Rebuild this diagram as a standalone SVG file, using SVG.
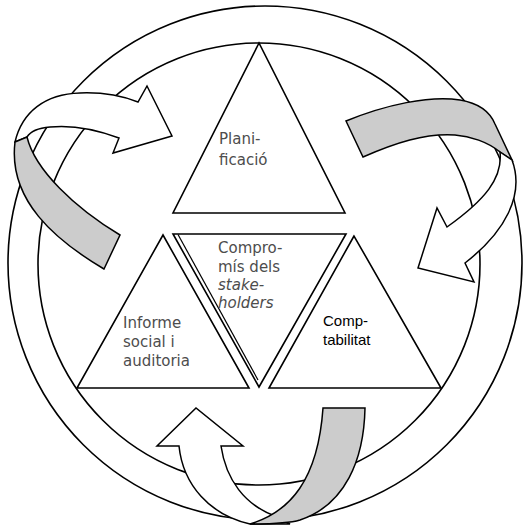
<svg xmlns="http://www.w3.org/2000/svg" width="523" height="526" viewBox="0 0 523 526">
<style>
.ring{fill:none;stroke:#000;stroke-width:1.6}
.tri{fill:#fff;stroke:#000;stroke-width:1.6;stroke-linejoin:miter}
.rib{fill:#fff;stroke:#000;stroke-width:1.5;stroke-linejoin:miter}
.back{fill:#cccccc;stroke:#000;stroke-width:1.5;stroke-linejoin:miter}
.lbl{font-family:"DejaVu Sans","Noto Sans",sans-serif;font-size:15px;fill:#4d4d4d}
.lbl2{font-family:"Liberation Sans",Arial,sans-serif;font-size:15px;fill:#000}
</style>
<rect width="523" height="526" fill="#fff"/>
<g id="rings">
<circle class="ring" cx="265" cy="263" r="257"/>
<circle class="ring" cx="259" cy="264" r="221"/>
</g>
<g id="connectors">
<g id="arrow-top-left">
<path class="rib" d="M15,142 C22,112 45,94 80,93 C105,92 125,97 138,102 L147,86 L172,136 L113,153 L119,138 C95,129 70,125 50,127 C38,128 30,132 27,137 Z"/>
<path class="back" d="M15,142 L27,137 C35,170 75,208 120,235 L104,269 C55,240 8,200 15,142 Z"/>
</g>
<g id="arrow-top-right">
<path class="back" d="M346,121 C385,105 430,95 460,100 C478,103 490,112 495,124 L512,160 L500,152 C488,142 470,136 455,135 C425,133 395,143 363,157 Z"/>
<path class="rib" d="M500,152 C503,178 485,200 447,227 L437,208 L418,268 L474,282 L465,263 C505,232 525,195 512,160 Z"/>
</g>
<g id="arrow-bottom">
<path class="rib" d="M179,446 L157,446 L196,408 L243,446 L221,446 C226,480 245,505 275,516 L290,524 L250,524 C210,515 183,485 179,446 Z"/>
<path class="back" d="M323,408 L365,408 C364,460 345,505 300,520 C290,523 275,524 250,524 C290,512 318,480 323,408 Z"/>
</g>
</g>
<g id="planificacio">
<polygon class="tri" points="259,43 173,213 345,213"/>
<text class="lbl" x="219" y="144">Plani-</text>
<text class="lbl" x="219" y="165">ficació</text>
</g>
<g id="compromis">
<polygon class="tri" points="173,234 346,234 259,387"/>
<line x1="178" y1="234.5" x2="258" y2="380" stroke="#000" stroke-width="1.2"/>
<text class="lbl" x="218" y="253">Compro-</text>
<text class="lbl" x="218" y="272">mís dels</text>
<text class="lbl" x="218" y="290" font-style="italic">stake-</text>
<text class="lbl" x="218" y="308" font-style="italic">holders</text>
</g>
<g id="informe">
<polygon class="tri" points="163,235 77,388 249,388"/>
<text class="lbl" x="123" y="328">Informe</text>
<text class="lbl" x="123" y="347">social i</text>
<text class="lbl" x="123" y="366">auditoria</text>
</g>
<g id="comptabilitat">
<polygon class="tri" points="354,236 269,388 441,388"/>
<text class="lbl2" x="323" y="326">Comp-</text>
<text class="lbl2" x="323" y="345">tabilitat</text>
</g>
</svg>
